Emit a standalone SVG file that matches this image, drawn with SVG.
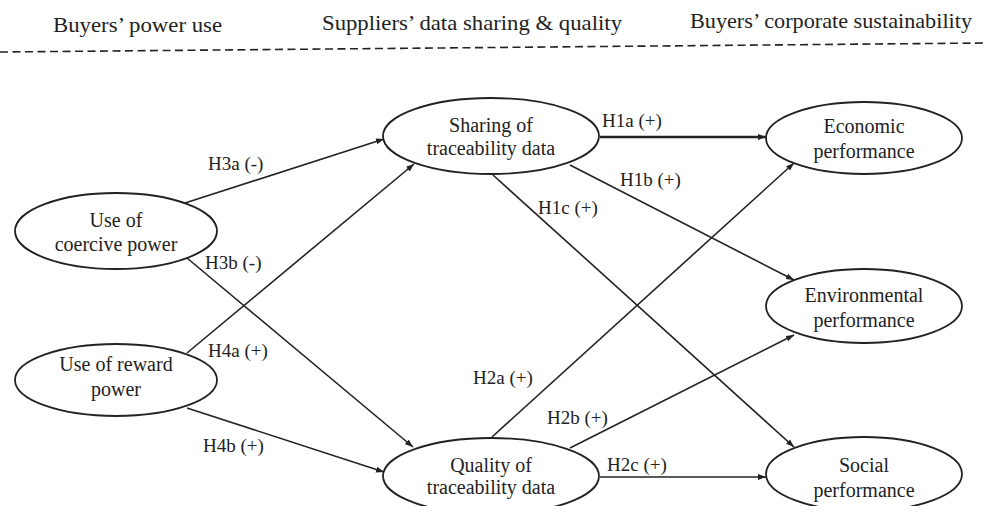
<svg xmlns="http://www.w3.org/2000/svg" width="984" height="506" viewBox="0 0 984 506">
<style>
text{font-family:"Liberation Serif","Times New Roman",serif;fill:#222}
.h{font-size:22px}
.n{font-size:20px;text-anchor:middle}
.l{font-size:19px}
ellipse{fill:#fff;stroke:#222;stroke-width:1.8}
.e{stroke:#222;stroke-width:1.6;fill:none;marker-end:url(#a)}
</style>
<defs>
<marker id="a" markerUnits="userSpaceOnUse" markerWidth="9" markerHeight="7" refX="8" refY="3.5" orient="auto">
<path d="M0,0.5 L8,3.5 L0,6.5 z" fill="#222"/>
</marker>
</defs>
<rect width="984" height="506" fill="#fff"/>
<g id="header">
<text class="h" x="53" y="32" textLength="169" lengthAdjust="spacingAndGlyphs">Buyers’ power use</text>
<text class="h" x="322" y="30" textLength="300" lengthAdjust="spacingAndGlyphs">Suppliers’ data sharing &amp; quality</text>
<text class="h" x="690" y="28" textLength="282" lengthAdjust="spacingAndGlyphs">Buyers’ corporate sustainability</text>
<line x1="0" y1="52" x2="984" y2="43" stroke="#222" stroke-width="1.6" stroke-dasharray="8,4.5"/>
</g>
<g id="connectors">
<line class="e" x1="185" y1="203" x2="384" y2="139"/>
<line class="e" x1="187" y1="258" x2="413" y2="447"/>
<line class="e" x1="187" y1="353" x2="414" y2="164"/>
<line class="e" x1="187" y1="408" x2="384" y2="472"/>
<line class="e" x1="600" y1="137" x2="766" y2="137" stroke="#444" style="stroke-width:2.4"/>
<line class="e" x1="570" y1="165" x2="794" y2="280"/>
<line class="e" x1="493" y1="175" x2="794" y2="447"/>
<line class="e" x1="492" y1="437" x2="794" y2="163"/>
<line class="e" x1="570" y1="448" x2="794" y2="335"/>
<line class="e" x1="600" y1="477" x2="766" y2="477"/>
<text class="l" x="208" y="170">H3a (-)</text>
<text class="l" x="205" y="269">H3b (-)</text>
<text class="l" x="208" y="357">H4a (+)</text>
<text class="l" x="203" y="452">H4b (+)</text>
<text class="l" x="602" y="127">H1a (+)</text>
<text class="l" x="620" y="186">H1b (+)</text>
<text class="l" x="538" y="214">H1c (+)</text>
<text class="l" x="473" y="384">H2a (+)</text>
<text class="l" x="547" y="424">H2b (+)</text>
<text class="l" x="607" y="471">H2c (+)</text>
</g>
<g id="coercive">
<ellipse cx="116" cy="231" rx="101" ry="38"/>
<text class="n" x="116" y="227">Use of</text>
<text class="n" x="116" y="251">coercive power</text>
</g>
<g id="reward">
<ellipse cx="116" cy="380" rx="101" ry="36"/>
<text class="n" x="116" y="371">Use of reward</text>
<text class="n" x="116" y="396">power</text>
</g>
<g id="sharing">
<ellipse cx="491" cy="136" rx="108" ry="38"/>
<text class="n" x="491" y="132">Sharing of</text>
<text class="n" x="491" y="155">traceability data</text>
</g>
<g id="quality">
<ellipse cx="491" cy="476" rx="108" ry="38"/>
<text class="n" x="491" y="472">Quality of</text>
<text class="n" x="491" y="494">traceability data</text>
</g>
<g id="economic">
<ellipse cx="864" cy="138" rx="98" ry="36"/>
<text class="n" x="864" y="133">Economic</text>
<text class="n" x="864" y="158">performance</text>
</g>
<g id="environmental">
<ellipse cx="864" cy="306" rx="98" ry="37"/>
<text class="n" x="864" y="302">Environmental</text>
<text class="n" x="864" y="327">performance</text>
</g>
<g id="social">
<ellipse cx="864" cy="474" rx="98" ry="37"/>
<text class="n" x="864" y="472">Social</text>
<text class="n" x="864" y="497">performance</text>
</g>
</svg>
